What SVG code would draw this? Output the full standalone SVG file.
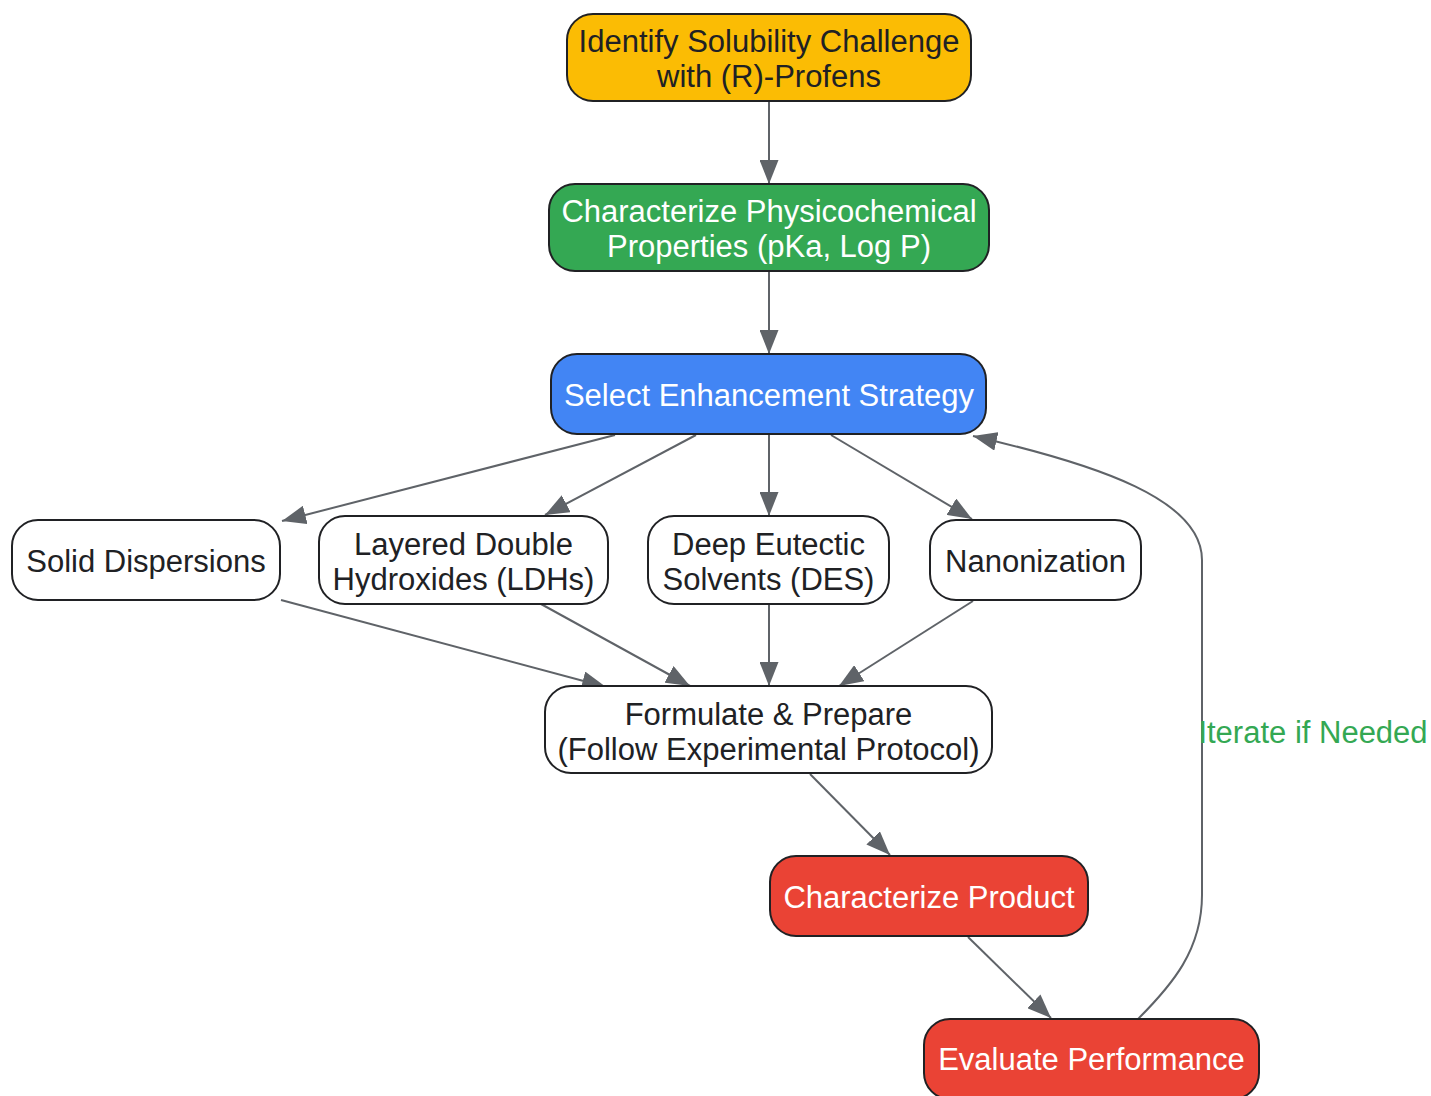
<svg xmlns="http://www.w3.org/2000/svg" width="1431" height="1096" viewBox="0 0 1431 1096">
<style>
.n rect{stroke:#202124;stroke-width:2}
.w rect{fill:#ffffff}
text{font-family:"Liberation Sans",Arial,sans-serif;font-size:31px;text-anchor:middle}
.dk{fill:#202124}
.lt{fill:#ffffff}
.e path{fill:none;stroke:#5F6368;stroke-width:2}
.lbl{fill:#34A853}
</style>
<defs>
<marker id="ah" markerUnits="userSpaceOnUse" markerWidth="24" markerHeight="19" refX="24" refY="9.5" orient="auto" viewBox="0 0 24 19">
<path d="M0,0 L24,9.5 L0,19 z" fill="#5F6368"/>
</marker>
</defs>
<rect width="1431" height="1096" fill="#ffffff"/>
<g class="e">
<path d="M769,101 L769,184" marker-end="url(#ah)"/>
<path d="M769,271 L769,354" marker-end="url(#ah)"/>
<path d="M615,435 L282,521" marker-end="url(#ah)"/>
<path d="M696,435 L545,515" marker-end="url(#ah)"/>
<path d="M769,434 L769,516" marker-end="url(#ah)"/>
<path d="M831,435 L972,519" marker-end="url(#ah)"/>
<path d="M281,600 L606,687" marker-end="url(#ah)"/>
<path d="M541,604 L690,686" marker-end="url(#ah)"/>
<path d="M769,604 L769,686" marker-end="url(#ah)"/>
<path d="M973,601 L839,686" marker-end="url(#ah)"/>
<path d="M810,774 L890,855" marker-end="url(#ah)"/>
<path d="M968,937 L1051,1018" marker-end="url(#ah)"/>
<path d="M1138,1019 C1172,985 1202,950 1202,895 L1202,560 C1202,500 1100,465 973,436" marker-end="url(#ah)"/>
<text class="lbl" x="1313" y="743">Iterate if Needed</text>
</g>
<g id="n1" class="n"><rect x="567" y="14" width="404" height="87" rx="26" fill="#FBBC04"/><text class="dk" x="769" y="52">Identify Solubility Challenge</text><text class="dk" x="769" y="87">with (R)-Profens</text></g>
<g id="n2" class="n"><rect x="549" y="184" width="440" height="87" rx="26" fill="#34A853"/><text class="lt" x="769" y="222">Characterize Physicochemical</text><text class="lt" x="769" y="257">Properties (pKa, Log P)</text></g>
<g id="n3" class="n"><rect x="551" y="354" width="435" height="80" rx="26" fill="#4285F4"/><text class="lt" x="769" y="406">Select Enhancement Strategy</text></g>
<g id="n4" class="n w"><rect x="12" y="520" width="268" height="80" rx="26"/><text class="dk" x="146" y="572">Solid Dispersions</text></g>
<g id="n5" class="n w"><rect x="319" y="516" width="289" height="88" rx="26"/><text class="dk" x="463.5" y="555">Layered Double</text><text class="dk" x="463.5" y="590">Hydroxides (LDHs)</text></g>
<g id="n6" class="n w"><rect x="648" y="516" width="241" height="88" rx="26"/><text class="dk" x="768.5" y="555">Deep Eutectic</text><text class="dk" x="768.5" y="590">Solvents (DES)</text></g>
<g id="n7" class="n w"><rect x="930" y="520" width="211" height="80" rx="26"/><text class="dk" x="1035.5" y="572">Nanonization</text></g>
<g id="n8" class="n w"><rect x="545" y="686" width="447" height="87" rx="26"/><text class="dk" x="768.5" y="725">Formulate &amp; Prepare</text><text class="dk" x="768.5" y="760">(Follow Experimental Protocol)</text></g>
<g id="n9" class="n"><rect x="770" y="856" width="318" height="80" rx="26" fill="#EA4335"/><text class="lt" x="929" y="908">Characterize Product</text></g>
<g id="n10" class="n"><rect x="924" y="1019" width="335" height="80" rx="26" fill="#EA4335"/><text class="lt" x="1091.5" y="1070">Evaluate Performance</text></g>
</svg>
